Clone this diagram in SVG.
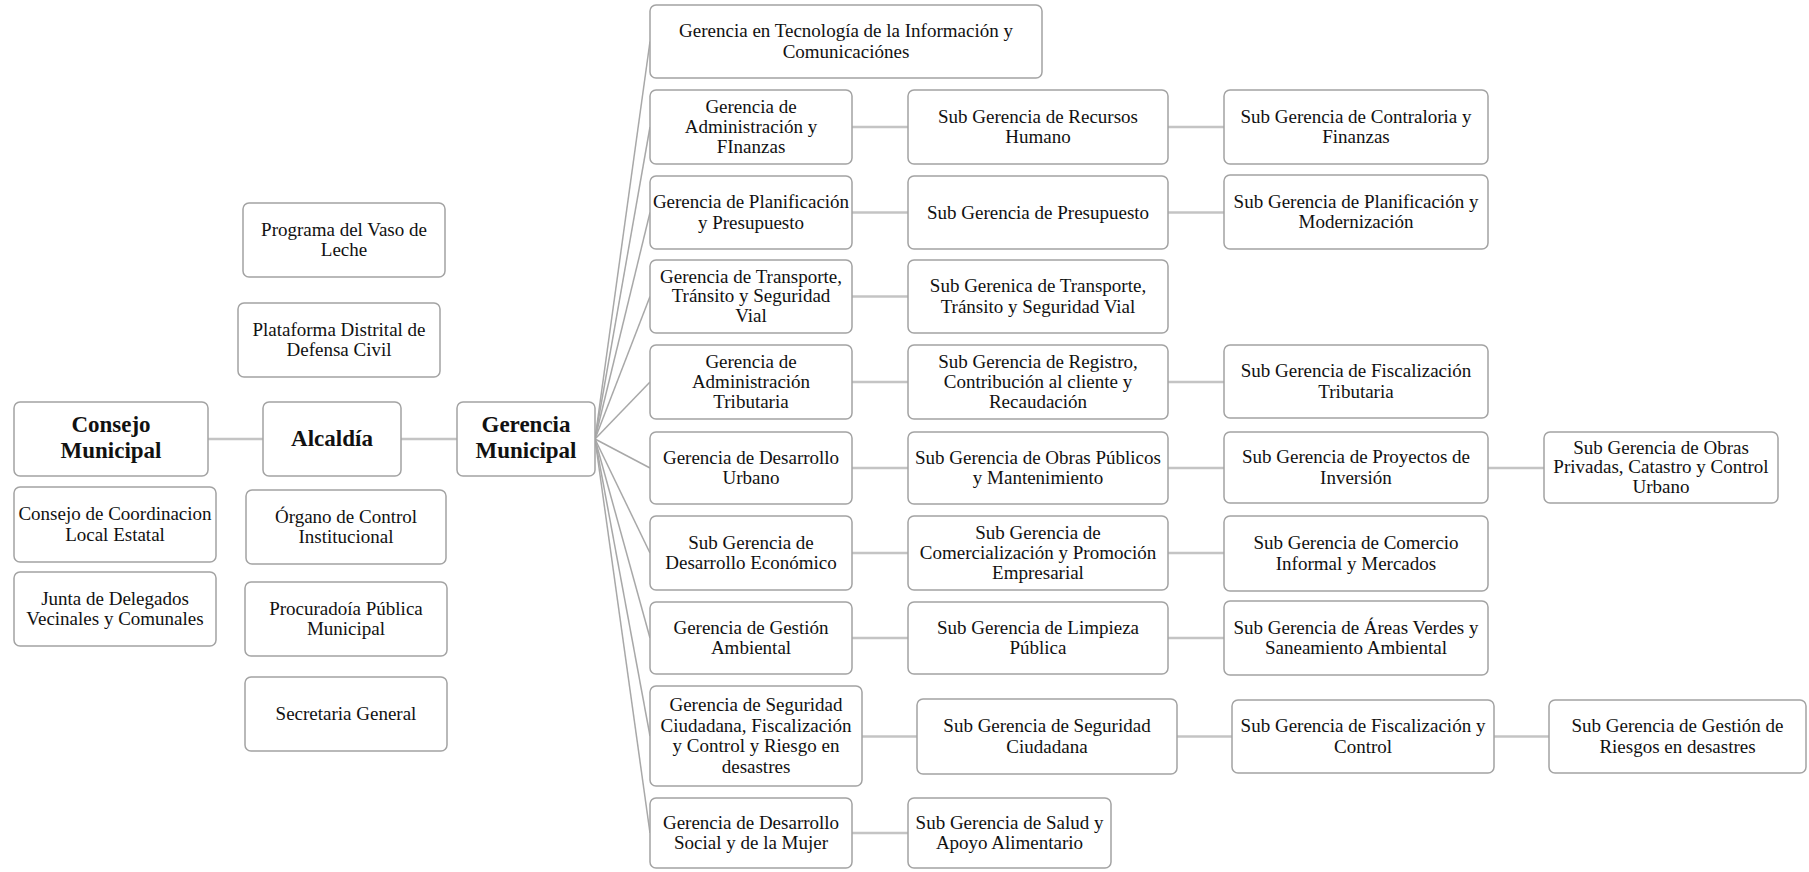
<svg xmlns="http://www.w3.org/2000/svg" width="1809" height="872" viewBox="0 0 1809 872">
<style>
.box{fill:#fff;stroke:#a3a3a3;stroke-width:1.5}
.t{font-family:"Liberation Serif","Times New Roman",serif;font-size:19px;fill:#111;text-anchor:middle}
.b{font-family:"Liberation Serif","Times New Roman",serif;font-size:23px;font-weight:bold;fill:#111;text-anchor:middle}
.h{stroke:#c4c4c4;stroke-width:2.5;fill:none}
.f{stroke:#a8a8a8;stroke-width:1.5;fill:none}
</style>
<rect width="1809" height="872" fill="#fff"/>
<g id="connectors">
<line class="h" x1="208" y1="439" x2="263" y2="439"/>
<line class="h" x1="401" y1="439" x2="457" y2="439"/>
<line class="f" x1="595" y1="439" x2="650" y2="41.5"/>
<line class="f" x1="595" y1="439" x2="650" y2="127"/>
<line class="f" x1="595" y1="439" x2="650" y2="212.5"/>
<line class="f" x1="595" y1="439" x2="650" y2="296.5"/>
<line class="f" x1="595" y1="439" x2="650" y2="382"/>
<line class="f" x1="595" y1="439" x2="650" y2="468"/>
<line class="f" x1="595" y1="439" x2="650" y2="553"/>
<line class="f" x1="595" y1="439" x2="650" y2="638"/>
<line class="f" x1="595" y1="439" x2="650" y2="736"/>
<line class="f" x1="595" y1="439" x2="650" y2="833"/>
<line class="h" x1="852" y1="127" x2="908" y2="127"/>
<line class="h" x1="1168" y1="127" x2="1224" y2="127"/>
<line class="h" x1="852" y1="212.5" x2="908" y2="212.5"/>
<line class="h" x1="1168" y1="212.5" x2="1224" y2="212.5"/>
<line class="h" x1="852" y1="296.5" x2="908" y2="296.5"/>
<line class="h" x1="852" y1="382" x2="908" y2="382"/>
<line class="h" x1="1168" y1="382" x2="1224" y2="382"/>
<line class="h" x1="852" y1="468" x2="908" y2="468"/>
<line class="h" x1="1168" y1="468" x2="1224" y2="468"/>
<line class="h" x1="1488" y1="468" x2="1544" y2="468"/>
<line class="h" x1="852" y1="553" x2="908" y2="553"/>
<line class="h" x1="1168" y1="553" x2="1224" y2="553"/>
<line class="h" x1="852" y1="638" x2="908" y2="638"/>
<line class="h" x1="1168" y1="638" x2="1224" y2="638"/>
<line class="h" x1="862" y1="736.5" x2="917" y2="736.5"/>
<line class="h" x1="1177" y1="736.5" x2="1232" y2="736.5"/>
<line class="h" x1="1494" y1="736.5" x2="1549" y2="736.5"/>
<line class="h" x1="852" y1="833" x2="908" y2="833"/>
</g>

<g id="consejo-municipal"><rect class="box" x="14" y="402" width="194" height="74" rx="6"/>
<text class="b" x="111" y="432"><tspan x="111" y="432">Consejo</tspan><tspan x="111" dy="26">Municipal</tspan></text></g>
<g id="alcaldia"><rect class="box" x="263" y="402" width="138" height="74" rx="6"/>
<text class="b" x="332" y="446">Alcaldía</text></g>
<g id="gerencia-municipal"><rect class="box" x="457" y="402" width="138" height="74" rx="6"/>
<text class="b" x="526" y="432"><tspan x="526" y="432">Gerencia</tspan><tspan x="526" dy="26">Municipal</tspan></text></g>
<g id="vaso-leche"><rect class="box" x="243" y="203" width="202" height="74" rx="6"/>
<text class="t"><tspan x="344" y="235.8">Programa del Vaso de</tspan><tspan x="344" dy="20.4">Leche</tspan></text></g>
<g id="plataforma"><rect class="box" x="238" y="303" width="202" height="74" rx="6"/>
<text class="t"><tspan x="339" y="335.8">Plataforma Distrital de</tspan><tspan x="339" dy="20.4">Defensa Civil</tspan></text></g>
<g id="consejo-coordinacion"><rect class="box" x="14" y="487" width="202" height="75" rx="6"/>
<text class="t"><tspan x="115" y="520.3">Consejo de Coordinacion</tspan><tspan x="115" dy="20.4">Local Estatal</tspan></text></g>
<g id="junta-delegados"><rect class="box" x="14" y="572" width="202" height="74" rx="6"/>
<text class="t"><tspan x="115" y="604.8">Junta de Delegados</tspan><tspan x="115" dy="20.4">Vecinales y Comunales</tspan></text></g>
<g id="organo-control"><rect class="box" x="246" y="490" width="200" height="74" rx="6"/>
<text class="t"><tspan x="346" y="522.8">Órgano de Control</tspan><tspan x="346" dy="20.4">Institucional</tspan></text></g>
<g id="procuradoia"><rect class="box" x="245" y="582" width="202" height="74" rx="6"/>
<text class="t"><tspan x="346" y="614.8">Procuradoía Pública</tspan><tspan x="346" dy="20.4">Municipal</tspan></text></g>
<g id="secretaria"><rect class="box" x="245" y="677" width="202" height="74" rx="6"/>
<text class="t" x="346" y="720">Secretaria General</text></g>

<g id="g-tecnologia"><rect class="box" x="650" y="5" width="392" height="73" rx="6"/>
<text class="t"><tspan x="846" y="37.3">Gerencia en Tecnología de la Información y</tspan><tspan x="846" dy="20.4">Comunicaciónes</tspan></text></g>
<g id="g-admin-finanzas"><rect class="box" x="650" y="90" width="202" height="74" rx="6"/>
<text class="t"><tspan x="751" y="112.6">Gerencia de</tspan><tspan x="751" dy="20.4">Administración y</tspan><tspan x="751" dy="20.4">FInanzas</tspan></text></g>
<g id="g-planificacion"><rect class="box" x="650" y="176" width="202" height="73" rx="6"/>
<text class="t"><tspan x="751" y="208.3">Gerencia de Planificación</tspan><tspan x="751" dy="20.4">y Presupuesto</tspan></text></g>
<g id="g-transporte"><rect class="box" x="650" y="260" width="202" height="73" rx="6"/>
<text class="t"><tspan x="751" y="282.6">Gerencia de Transporte,</tspan><tspan x="751" dy="19.6">Tránsito y Seguridad</tspan><tspan x="751" dy="19.6">Vial</tspan></text></g>
<g id="g-tributaria"><rect class="box" x="650" y="345" width="202" height="74" rx="6"/>
<text class="t"><tspan x="751" y="367.6">Gerencia de</tspan><tspan x="751" dy="20.4">Administración</tspan><tspan x="751" dy="20.4">Tributaria</tspan></text></g>
<g id="g-urbano"><rect class="box" x="650" y="432" width="202" height="72" rx="6"/>
<text class="t"><tspan x="751" y="463.8">Gerencia de Desarrollo</tspan><tspan x="751" dy="20.4">Urbano</tspan></text></g>
<g id="g-economico"><rect class="box" x="650" y="516" width="202" height="74" rx="6"/>
<text class="t"><tspan x="751" y="548.8">Sub Gerencia de</tspan><tspan x="751" dy="20.4">Desarrollo Económico</tspan></text></g>
<g id="g-ambiental"><rect class="box" x="650" y="602" width="202" height="72" rx="6"/>
<text class="t"><tspan x="751" y="633.8">Gerencia de Gestión</tspan><tspan x="751" dy="20.4">Ambiental</tspan></text></g>
<g id="g-seguridad"><rect class="box" x="650" y="686" width="212" height="100" rx="6"/>
<text class="t"><tspan x="756" y="711.4">Gerencia de Seguridad</tspan><tspan x="756" dy="20.4">Ciudadana, Fiscalización</tspan><tspan x="756" dy="20.4">y Control y Riesgo en</tspan><tspan x="756" dy="20.4">desastres</tspan></text></g>
<g id="g-social"><rect class="box" x="650" y="798" width="202" height="70" rx="6"/>
<text class="t"><tspan x="751" y="828.8">Gerencia de Desarrollo</tspan><tspan x="751" dy="20.4">Social y de la Mujer</tspan></text></g>

<g id="sg-rrhh"><rect class="box" x="908" y="90" width="260" height="74" rx="6"/>
<text class="t"><tspan x="1038" y="122.8">Sub Gerencia de Recursos</tspan><tspan x="1038" dy="20.4">Humano</tspan></text></g>
<g id="sg-presupuesto"><rect class="box" x="908" y="176" width="260" height="73" rx="6"/>
<text class="t" x="1038" y="218.5">Sub Gerencia de Presupuesto</text></g>
<g id="sg-transporte"><rect class="box" x="908" y="260" width="260" height="73" rx="6"/>
<text class="t"><tspan x="1038" y="292.3">Sub Gerenica de Transporte,</tspan><tspan x="1038" dy="20.4">Tránsito y Seguridad Vial</tspan></text></g>
<g id="sg-registro"><rect class="box" x="908" y="345" width="260" height="74" rx="6"/>
<text class="t"><tspan x="1038" y="367.6">Sub Gerencia de Registro,</tspan><tspan x="1038" dy="20.4">Contribución al cliente y</tspan><tspan x="1038" dy="20.4">Recaudación</tspan></text></g>
<g id="sg-obras-publicos"><rect class="box" x="908" y="432" width="260" height="72" rx="6"/>
<text class="t"><tspan x="1038" y="463.8">Sub Gerencia de Obras Públicos</tspan><tspan x="1038" dy="20.4">y Mantenimiento</tspan></text></g>
<g id="sg-comercializacion"><rect class="box" x="908" y="516" width="260" height="74" rx="6"/>
<text class="t"><tspan x="1038" y="538.6">Sub Gerencia de</tspan><tspan x="1038" dy="20.4">Comercialización y Promoción</tspan><tspan x="1038" dy="20.4">Empresarial</tspan></text></g>
<g id="sg-limpieza"><rect class="box" x="908" y="602" width="260" height="72" rx="6"/>
<text class="t"><tspan x="1038" y="633.8">Sub Gerencia de Limpieza</tspan><tspan x="1038" dy="20.4">Pública</tspan></text></g>
<g id="sg-seguridad-ciudadana"><rect class="box" x="917" y="699" width="260" height="75" rx="6"/>
<text class="t"><tspan x="1047" y="732.3">Sub Gerencia de Seguridad</tspan><tspan x="1047" dy="20.4">Ciudadana</tspan></text></g>
<g id="sg-salud"><rect class="box" x="908" y="798" width="203" height="70" rx="6"/>
<text class="t"><tspan x="1009.5" y="828.8">Sub Gerencia de Salud y</tspan><tspan x="1009.5" dy="20.4">Apoyo Alimentario</tspan></text></g>

<g id="sg-contraloria"><rect class="box" x="1224" y="90" width="264" height="74" rx="6"/>
<text class="t"><tspan x="1356" y="122.8">Sub Gerencia de Contraloria y</tspan><tspan x="1356" dy="20.4">Finanzas</tspan></text></g>
<g id="sg-modernizacion"><rect class="box" x="1224" y="175" width="264" height="74" rx="6"/>
<text class="t"><tspan x="1356" y="207.8">Sub Gerencia de Planificación y</tspan><tspan x="1356" dy="20.4">Modernización</tspan></text></g>
<g id="sg-fiscalizacion-tributaria"><rect class="box" x="1224" y="345" width="264" height="73" rx="6"/>
<text class="t"><tspan x="1356" y="377.3">Sub Gerencia de Fiscalización</tspan><tspan x="1356" dy="20.4">Tributaria</tspan></text></g>
<g id="sg-proyectos"><rect class="box" x="1224" y="432" width="264" height="71" rx="6"/>
<text class="t"><tspan x="1356" y="463.3">Sub Gerencia de Proyectos de</tspan><tspan x="1356" dy="20.4">Inversión</tspan></text></g>
<g id="sg-comercio-informal"><rect class="box" x="1224" y="516" width="264" height="75" rx="6"/>
<text class="t"><tspan x="1356" y="549.3">Sub Gerencia de Comercio</tspan><tspan x="1356" dy="20.4">Informal y Mercados</tspan></text></g>
<g id="sg-areas-verdes"><rect class="box" x="1224" y="601" width="264" height="74" rx="6"/>
<text class="t"><tspan x="1356" y="633.8">Sub Gerencia de Áreas Verdes y</tspan><tspan x="1356" dy="20.4">Saneamiento Ambiental</tspan></text></g>
<g id="sg-fiscalizacion-control"><rect class="box" x="1232" y="700" width="262" height="73" rx="6"/>
<text class="t"><tspan x="1363" y="732.3">Sub Gerencia de Fiscalización y</tspan><tspan x="1363" dy="20.4">Control</tspan></text></g>

<g id="sg-obras-privadas"><rect class="box" x="1544" y="432" width="234" height="71" rx="6"/>
<text class="t"><tspan x="1661" y="453.6">Sub Gerencia de Obras</tspan><tspan x="1661" dy="19.8">Privadas, Catastro y Control</tspan><tspan x="1661" dy="19.8">Urbano</tspan></text></g>
<g id="sg-riesgos"><rect class="box" x="1549" y="700" width="257" height="73" rx="6"/>
<text class="t"><tspan x="1677.5" y="732.3">Sub Gerencia de Gestión de</tspan><tspan x="1677.5" dy="20.4">Riesgos en desastres</tspan></text></g>
</svg>
